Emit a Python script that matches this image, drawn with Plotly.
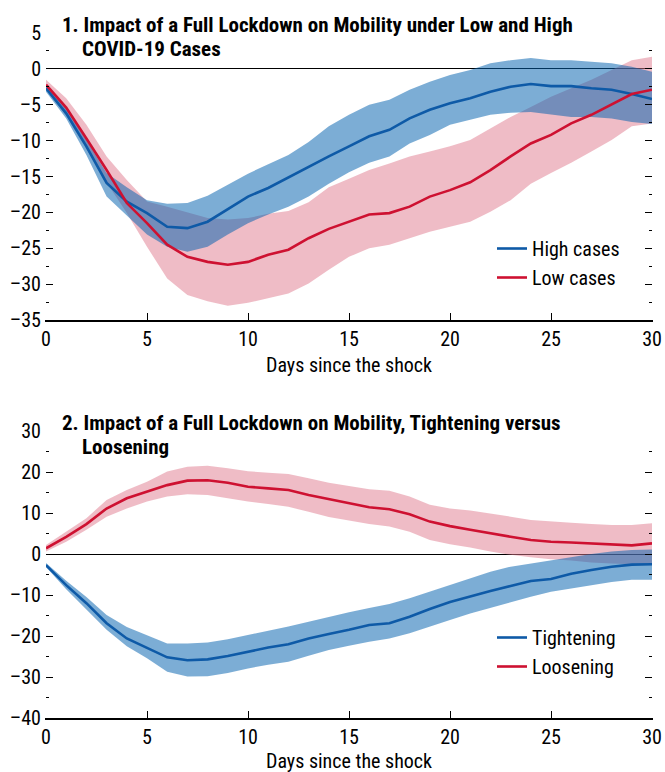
import plotly.graph_objects as go
from plotly.subplots import make_subplots

days = list(range(31))

# Panel 1: High vs Low COVID-19 cases
high_cases = [-2.7, -6.2, -10.8, -15.9, -18.5, -20.1, -22.0, -22.2, -21.3, -19.5, -17.8,
              -16.6, -15.1, -13.6, -12.2, -10.8, -9.4, -8.5, -6.9, -5.7, -4.8,
              -4.1, -3.2, -2.5, -2.1, -2.4, -2.4, -2.7, -2.9, -3.5, -4.2]
high_upper = [-2.2, -5.5, -9.9, -14.5, -16.5, -18.3, -18.8, -18.7, -17.7, -16.2, -14.6,
              -13.3, -12.0, -10.2, -8.0, -6.4, -5.0, -4.3, -2.9, -1.8, -0.85,
              -0.15, 0.8, 1.2, 1.5, 1.2, 1.2, 1.0, 0.8, 0.3, -0.4]
high_lower = [-3.2, -6.9, -12.0, -17.8, -20.5, -23.1, -24.8, -25.5, -24.8, -23.1, -21.5,
              -20.3, -19.2, -17.8, -16.0, -14.4, -13.1, -12.2, -10.4, -9.2, -7.8,
              -7.1, -6.4, -6.1, -6.0, -6.4, -6.7, -6.7, -6.9, -7.4, -7.7]
low_cases = [-2.2, -5.4, -9.7, -14.1, -18.7, -21.5, -24.5, -26.2, -26.9, -27.3, -26.9,
             -25.9, -25.2, -23.6, -22.3, -21.3, -20.3, -20.1, -19.2, -17.8, -16.9,
             -15.8, -14.1, -12.2, -10.4, -9.2, -7.6, -6.4, -5.0, -3.5, -2.9]
low_upper = [-1.5, -4.1, -7.8, -12.2, -15.5, -18.5, -19.2, -20.0, -20.8, -21.0, -20.8,
             -20.2, -19.8, -18.6, -16.5, -15.3, -14.1, -13.2, -12.2, -11.5, -10.8,
             -9.9, -8.3, -6.7, -5.3, -3.9, -2.7, -1.5, -0.15, 1.2, 1.7]
low_lower = [-2.8, -6.5, -11.1, -15.8, -20.1, -24.8, -29.2, -31.5, -32.4, -33.0, -32.6,
             -32.0, -31.3, -29.9, -28.0, -26.2, -25.0, -24.5, -23.6, -22.7, -22.0,
             -21.3, -19.9, -18.3, -16.0, -14.5, -13.1, -11.5, -9.9, -8.0, -7.6]

# Panel 2: Tightening vs Loosening
tightening = [-2.7, -7.6, -12.0, -16.9, -20.6, -23.0, -25.2, -25.9, -25.7, -24.9, -23.8,
              -22.8, -22.0, -20.6, -19.5, -18.5, -17.3, -16.9, -15.3, -13.4, -11.7,
              -10.3, -9.0, -7.8, -6.6, -6.1, -4.8, -3.9, -3.1, -2.6, -2.5]
tight_upper = [-2.2, -6.5, -10.5, -14.9, -17.8, -19.8, -21.8, -21.8, -21.6, -20.8, -19.8,
               -18.8, -17.7, -16.5, -15.3, -14.2, -13.2, -12.2, -10.8, -9.2, -7.6,
               -5.9, -4.3, -3.1, -2.3, -1.5, -0.7, 0.0, 0.6, 1.0, 1.1]
tight_lower = [-3.2, -8.6, -13.5, -18.5, -22.5, -25.4, -28.7, -29.9, -29.8, -29.0, -27.9,
               -27.0, -26.3, -24.8, -23.4, -22.4, -21.4, -20.6, -19.3, -17.7, -16.1,
               -14.5, -13.2, -11.8, -10.4, -9.2, -8.4, -7.6, -6.8, -6.3, -6.3]
loosening = [1.4, 4.2, 7.3, 11.1, 13.6, 15.2, 16.8, 17.9, 18.0, 17.4, 16.4,
             16.0, 15.6, 14.4, 13.4, 12.4, 11.4, 10.9, 9.7, 7.9, 6.8,
             5.9, 5.0, 4.2, 3.4, 3.0, 2.8, 2.6, 2.4, 2.1, 2.6]
loose_upper = [2.2, 5.4, 8.7, 13.2, 15.6, 17.6, 20.1, 21.3, 21.5, 20.9, 20.2,
               19.8, 19.5, 18.5, 17.4, 16.6, 15.8, 15.4, 14.0, 12.0, 11.1,
               10.6, 9.9, 9.1, 8.3, 7.9, 7.6, 7.3, 7.1, 7.1, 7.5]
loose_lower = [0.6, 3.0, 5.9, 9.1, 11.1, 12.8, 14.0, 14.6, 14.4, 13.6, 12.8,
               12.2, 11.5, 10.3, 9.0, 8.1, 7.3, 6.7, 5.4, 3.4, 2.4,
               1.6, 0.6, -0.2, -0.8, -1.3, -1.6, -2.1, -2.3, -2.5, -2.3]

x_ticks = [0, 5, 10, 15, 20, 25, 30]
y1_ticks = [5, 0, -5, -10, -15, -20, -25, -30, -35]
y2_ticks = [30, 20, 10, 0, -10, -20, -30, -40]

def lab(v):
    return str(v) if v >= 0 else "\u2013" + str(-v)

BLUE = "#0E5AA7"
RED = "#CE1131"
BLUE_BAND = "rgba(4,97,174,0.52)"
RED_BAND = "rgba(223,121,141,0.5)"
FONT = "Liberation Sans Narrow, Arial Narrow, Roboto Condensed, Liberation Sans, sans-serif"
TICK_SIZE = 20

# body margin is removed by a post script, so the figure fills the window exactly
W, H = 665, 772
L_PX, R_PX = 46, 652  # plot area edges in window pixels

fig = make_subplots(rows=2, cols=1)

def band(upper, lower, color, row):
    fig.add_trace(go.Scatter(x=days + days[::-1], y=upper + lower[::-1], fill="toself",
                             fillcolor=color, line=dict(width=0), mode="lines",
                             hoverinfo="skip", showlegend=False), row=row, col=1)

band(low_upper, low_lower, RED_BAND, 1)
band(high_upper, high_lower, BLUE_BAND, 1)
band(loose_upper, loose_lower, RED_BAND, 2)
band(tight_upper, tight_lower, BLUE_BAND, 2)

fig.add_trace(go.Scatter(x=days, y=high_cases, mode="lines", name="High cases",
                         line=dict(color=BLUE, width=2.6), legend="legend"), row=1, col=1)
fig.add_trace(go.Scatter(x=days, y=low_cases, mode="lines", name="Low cases",
                         line=dict(color=RED, width=2.6), legend="legend"), row=1, col=1)
fig.add_trace(go.Scatter(x=days, y=tightening, mode="lines", name="Tightening",
                         line=dict(color=BLUE, width=2.6), legend="legend2"), row=2, col=1)
fig.add_trace(go.Scatter(x=days, y=loosening, mode="lines", name="Loosening",
                         line=dict(color=RED, width=2.6), legend="legend2"), row=2, col=1)

def py(px):
    return 1 - px / H

def pxx(px):
    return (px - L_PX) / (R_PX - L_PX)

xaxis_common = dict(range=[0, 30], tickvals=x_ticks, ticktext=[str(v) for v in x_ticks],
                    ticks="inside", ticklen=7, tickwidth=1.3, tickcolor="black",
                    showline=True, linecolor="black", linewidth=1.5, showgrid=False,
                    zeroline=False, ticklabelstandoff=0, automargin=False,
                    tickfont=dict(size=TICK_SIZE, color="black", family=FONT))
fig.update_xaxes(**xaxis_common)
fig.update_xaxes(domain=[0, 1])

yaxis_common = dict(ticks="inside", ticklen=7, tickwidth=1.3, tickcolor="black",
                    mirror="ticks", showline=True, linecolor="rgba(0,0,0,0)",
                    showgrid=False, automargin=False,
                    zeroline=True, zerolinecolor="black", zerolinewidth=1.3,
                    tickfont=dict(size=TICK_SIZE, color="black", family=FONT))
fig.update_yaxes(range=[-35, 5], tickvals=y1_ticks, ticktext=[lab(v) for v in y1_ticks],
                 minor=dict(ticks="inside", ticklen=3, dtick=2.5, tick0=0, tickcolor="black", showgrid=False),
                 domain=[py(320), py(33)], row=1, col=1, **yaxis_common)
fig.update_yaxes(range=[-40, 30], tickvals=y2_ticks, ticktext=[lab(v) for v in y2_ticks],
                 minor=dict(ticks="inside", ticklen=3, dtick=5, tick0=0, tickcolor="black", showgrid=False),
                 domain=[py(718), py(431)], row=2, col=1, **yaxis_common)

def ann(text, xpx, ypx, size=20, bold=False, xanchor="left"):
    fig.add_annotation(text=text, xref="paper", yref="paper", x=pxx(xpx), y=py(ypx),
                       xanchor=xanchor, yanchor="middle", showarrow=False,
                       font=dict(size=size, color="black", family=FONT,
                                 weight="bold" if bold else "normal"))

ann("1. Impact of a Full Lockdown on Mobility under Low and High", 60, 25, size=21, bold=True)
ann("COVID-19 Cases", 80, 49, size=21, bold=True)
ann("2. Impact of a Full Lockdown on Mobility, Tightening versus", 60, 423, size=21, bold=True)
ann("Loosening", 80, 447, size=21, bold=True)
ann("Days since the shock", 349, 365, xanchor="center")
ann("Days since the shock", 349, 761, xanchor="center")

leg = dict(xanchor="left", yanchor="top", bgcolor="rgba(0,0,0,0)",
           font=dict(size=20, color="black", family=FONT), traceorder="normal",
           itemwidth=30, tracegroupgap=0)
fig.update_layout(
    width=W, height=H,
    margin=dict(l=L_PX, r=W - R_PX, t=0, b=0, autoexpand=False),
    plot_bgcolor="white", paper_bgcolor="white",
    font=dict(family=FONT, size=20, color="black"),
    legend=dict(x=pxx(492), y=py(229), **leg),
    legend2=dict(x=pxx(492), y=py(618), **leg),
)

fig.write_html("out.html", config={"displayModeBar": False},
               post_script="document.body.style.margin='0px';document.body.style.overflow='hidden';")
